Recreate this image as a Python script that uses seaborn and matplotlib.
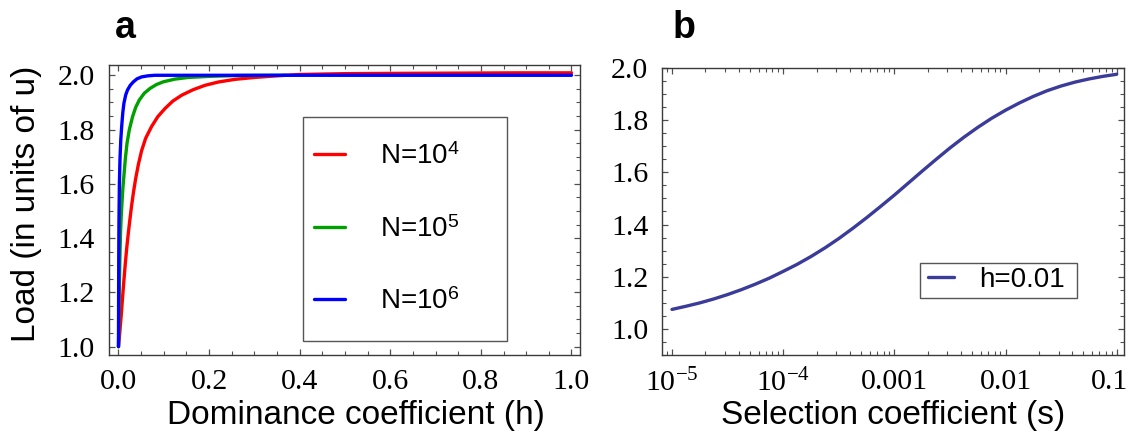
import matplotlib
matplotlib.use("Agg")
import matplotlib.pyplot as plt
import matplotlib.transforms as mtransforms
import pandas as pd
import seaborn as sns
from matplotlib.patches import Rectangle
from matplotlib.ticker import MultipleLocator, FixedLocator, FixedFormatter, LogLocator, NullFormatter

# ---- panel a: load vs dominance coefficient for three population sizes ----
series_labels = [r"N=10$^{\mathsf{4}}$", r"N=10$^{\mathsf{5}}$", r"N=10$^{\mathsf{6}}$"]
series_colors = ["#ff0000", "#00a000", "#0000ff"]

h_n4 = [0.0, 0.002, 0.004, 0.0065, 0.0085, 0.012, 0.015, 0.018, 0.0215, 0.025,
        0.029, 0.033, 0.038, 0.044, 0.051, 0.060, 0.073, 0.087, 0.103, 0.120,
        0.140, 0.165, 0.191, 0.220, 0.257, 0.300, 0.350, 0.400, 0.500, 0.600,
        0.760, 0.880, 1.0]
load_n4 = [1.0, 1.035, 1.075, 1.125, 1.17, 1.245, 1.305, 1.36, 1.415, 1.466,
           1.52, 1.568, 1.62, 1.672, 1.722, 1.768, 1.811, 1.848, 1.878, 1.905,
           1.927, 1.947, 1.963, 1.975, 1.985, 1.992, 1.998, 2.003, 2.006, 2.007,
           2.008, 2.009, 2.009]

h_n5 = [0.0, 0.001, 0.002, 0.003, 0.0045, 0.006, 0.0077, 0.0095, 0.012, 0.015,
        0.0188, 0.024, 0.031, 0.038, 0.046, 0.057, 0.070, 0.084, 0.099, 0.125,
        0.154, 0.20, 0.26, 0.37]
load_n5 = [1.0, 1.12, 1.23, 1.32, 1.42, 1.48, 1.53, 1.58, 1.63, 1.69,
           1.749, 1.80, 1.847, 1.882, 1.909, 1.934, 1.952, 1.966, 1.976, 1.986,
           1.992, 1.996, 1.999, 2.0]

h_n6 = [0.0, 0.0005, 0.001, 0.002, 0.0033, 0.005, 0.007, 0.0095, 0.012, 0.016,
        0.020, 0.026, 0.033, 0.041, 0.051, 0.065, 0.080, 0.15, 0.30, 1.0]
load_n6 = [1.0, 1.3, 1.45, 1.6, 1.69, 1.76, 1.81, 1.862, 1.897, 1.928,
           1.946, 1.963, 1.976, 1.987, 1.994, 1.998, 2.0, 2.0, 2.0, 2.0]

a_xticks = [0.0, 0.2, 0.4, 0.6, 0.8, 1.0]
a_xticklabels = ["0.0", "0.2", "0.4", "0.6", "0.8", "1.0"]
a_yticks = [1.0, 1.2, 1.4, 1.6, 1.8, 2.0]
a_yticklabels = ["1.0", "1.2", "1.4", "1.6", "1.8", "2.0"]

# ---- panel b: load vs selection coefficient at h = 0.01 ----
b_label = "h=0.01"
b_color = "#3b3b99"
s_values = [1.0e-5, 1.334e-5, 1.778e-5, 2.371e-5, 3.162e-5, 4.217e-5, 5.623e-5, 7.499e-5,
            1.0e-4, 1.334e-4, 1.778e-4, 2.371e-4, 3.162e-4, 4.217e-4, 5.623e-4, 7.499e-4,
            1.0e-3, 1.334e-3, 1.778e-3, 2.371e-3, 3.162e-3, 4.217e-3, 5.623e-3, 7.499e-3,
            1.0e-2, 1.334e-2, 1.778e-2, 2.371e-2, 3.162e-2, 4.217e-2, 5.623e-2, 7.499e-2,
            1.0e-1]
load_h001 = [1.074, 1.086, 1.099, 1.114, 1.131, 1.150, 1.171, 1.194,
             1.220, 1.247, 1.277, 1.310, 1.346, 1.385, 1.426, 1.469,
             1.513, 1.559, 1.605, 1.650, 1.694, 1.735, 1.773, 1.808,
             1.839, 1.867, 1.892, 1.914, 1.932, 1.947, 1.959, 1.969,
             1.977]

b_xticks = [1e-5, 1e-4, 1e-3, 1e-2, 1e-1]
b_xticklabels = [r"$10^{-5}$", r"$10^{-4}$", "0.001", "0.01", "0.1"]
b_yticks = [1.0, 1.2, 1.4, 1.6, 1.8, 2.0]
b_yticklabels = ["1.0", "1.2", "1.4", "1.6", "1.8", "2.0"]

# ---- style ----
sns.set_style("ticks")
plt.rcParams["font.family"] = ["Liberation Serif", "DejaVu Serif"]
plt.rcParams["text.color"] = "black"
plt.rcParams["axes.labelcolor"] = "black"
plt.rcParams["mathtext.fontset"] = "custom"
plt.rcParams["mathtext.rm"] = "Liberation Serif"
plt.rcParams["mathtext.it"] = "Liberation Serif:italic"
plt.rcParams["mathtext.bf"] = "Liberation Serif:bold"
plt.rcParams["mathtext.sf"] = "Liberation Sans"

SANS = "Liberation Sans"
TICK_FS = 21.5
LABEL_FS = 24
LEGEND_FS = 20
SPINE_COLOR = "#3a3a3a"
TICK_COLOR = "#505050"

W, H = 1133, 436
fig = plt.figure(figsize=(W / 100, H / 100), dpi=100)


def axes_px(left, top, right, bottom):
    return fig.add_axes([left / W, 1 - bottom / H, (right - left) / W, (bottom - top) / H])


def frame_px(left, top, right, bottom):
    fig.add_artist(Rectangle((left / W, 1 - bottom / H), (right - left) / W, (bottom - top) / H,
                             transform=fig.transFigure, fill=False, ec="#555555", lw=1.0, zorder=5))


def style_axes(ax):
    for sp in ax.spines.values():
        sp.set_color(SPINE_COLOR)
        sp.set_linewidth(1.0)
    ax.tick_params(which="both", direction="in", top=True, right=True, color=TICK_COLOR,
                   labelcolor="black", labelsize=TICK_FS, pad=10)
    ax.tick_params(which="major", length=4.5, width=0.9)
    ax.tick_params(which="minor", length=2.6, width=0.8)


ax_a = axes_px(108.7, 64.7, 580, 355.3)
ax_b = axes_px(662.3, 68.3, 1124.3, 354.7)

# panel a
df_a = pd.concat([
    pd.DataFrame({"h": h_n4, "load": load_n4, "series": series_labels[0]}),
    pd.DataFrame({"h": h_n5, "load": load_n5, "series": series_labels[1]}),
    pd.DataFrame({"h": h_n6, "load": load_n6, "series": series_labels[2]}),
], ignore_index=True)
sns.lineplot(data=df_a, x="h", y="load", hue="series", hue_order=series_labels,
             palette=series_colors, estimator=None, sort=False, lw=2.4, ax=ax_a, legend=False)

ax_a.set_xlim(-0.0216, 1.0188)
ax_a.set_ylim(0.968, 2.039)
ax_a.xaxis.set_major_locator(FixedLocator(a_xticks))
ax_a.xaxis.set_major_formatter(FixedFormatter(a_xticklabels))
ax_a.yaxis.set_major_locator(FixedLocator(a_yticks))
ax_a.yaxis.set_major_formatter(FixedFormatter(a_yticklabels))
ax_a.xaxis.set_minor_locator(MultipleLocator(0.05))
ax_a.yaxis.set_minor_locator(MultipleLocator(0.05))
style_axes(ax_a)

ax_a.set_xlabel("Dominance coefficient (h)", family=SANS, fontsize=LABEL_FS, color="black")
ax_a.xaxis.set_label_coords(0.524, -0.154)
ax_a.xaxis.label.set_va("top")
ax_a.set_ylabel("Load (in units of u)", family=SANS, fontsize=LABEL_FS, color="black")
ax_a.yaxis.set_label_coords(-0.174, 0.521)
ax_a.yaxis.label.set_va("center")

leg_a = ax_a.legend(handles=ax_a.lines[:3], labels=series_labels, loc="center left",
                    bbox_to_anchor=(314 / W, 1 - 229.5 / H), bbox_transform=fig.transFigure,
                    frameon=False, borderpad=0, borderaxespad=0, handlelength=1.13,
                    handletextpad=1.26, labelspacing=1.66,
                    prop={"family": SANS, "size": LEGEND_FS})
frame_px(302.9, 116.7, 507.2, 340.7)

# panel b
ax_b.set_xscale("log")
df_b = pd.DataFrame({"s": s_values, "load": load_h001})
sns.lineplot(data=df_b, x="s", y="load", color=b_color, lw=2.4, estimator=None,
             sort=False, ax=ax_b, label=b_label)
ax_b.set_xlim(10 ** -5.0874, 10 ** -0.9315)
ax_b.set_ylim(0.9, 2.0)
ax_b.xaxis.set_major_locator(FixedLocator(b_xticks))
ax_b.xaxis.set_major_formatter(FixedFormatter(b_xticklabels))
ax_b.xaxis.set_minor_locator(LogLocator(base=10, subs=[2, 3, 4, 5, 6, 7, 8, 9]))
ax_b.xaxis.set_minor_formatter(NullFormatter())
ax_b.yaxis.set_major_locator(FixedLocator(b_yticks))
ax_b.yaxis.set_major_formatter(FixedFormatter(b_yticklabels))
ax_b.yaxis.set_minor_locator(MultipleLocator(0.05))
style_axes(ax_b)

ax_b.set_xlabel("Selection coefficient (s)", family=SANS, fontsize=LABEL_FS, color="black")
ax_b.xaxis.set_label_coords(0.5, -0.158)
ax_b.xaxis.label.set_va("top")
ax_b.set_ylabel("")

ax_b.legend(loc="center left", bbox_to_anchor=(928.3 / W, 1 - 280 / H),
            bbox_transform=fig.transFigure, frameon=False, borderpad=0, borderaxespad=0,
            handlelength=0.92, handletextpad=0.91, prop={"family": SANS, "size": LEGEND_FS})
frame_px(920, 263.3, 1076.7, 297.7)

# the last tick label sits at the figure edge: nudge it inward
last_label = ax_b.xaxis.get_major_ticks()[-1].label1
last_label.set_transform(last_label.get_transform()
                         + mtransforms.ScaledTranslation(-7 / 100, 0, fig.dpi_scale_trans))

# panel letters
fig.text(115 / W, 1 - 37.5 / H, "a", family=SANS, fontweight="bold", fontsize=27,
         color="black", ha="left", va="baseline")
fig.text(672.6 / W, 1 - 37.5 / H, "b", family=SANS, fontweight="bold", fontsize=27,
         color="black", ha="left", va="baseline")

fig.savefig("out.png", dpi=100)
